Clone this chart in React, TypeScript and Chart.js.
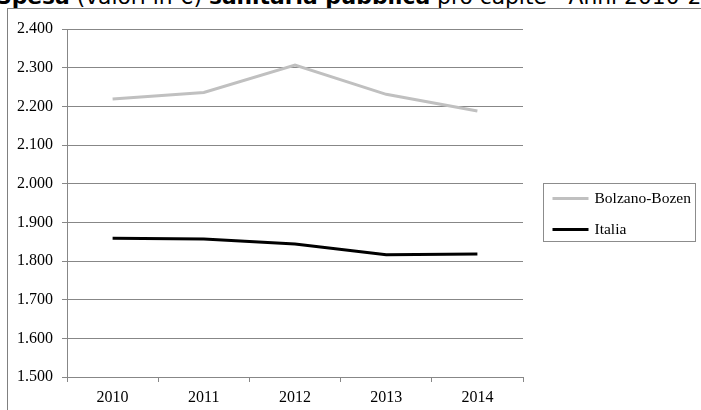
import React, { useEffect, useRef } from "react";
import { Chart, registerables } from "chart.js";

Chart.register(...registerables);

const categories = ["2010", "2011", "2012", "2013", "2014"];
const bolzanoValues = [2219, 2236, 2307, 2231, 2188];
const italiaValues = [1859, 1857, 1844, 1816, 1818];
const seriesNames = ["Bolzano-Bozen", "Italia"];
const yMin = 1500;
const yMax = 2400;
const yStep = 100;

const fmt = (v: number) => {
  const n = Math.round(v);
  const th = Math.floor(n / 1000);
  const rest = String(n % 1000).padStart(3, "0");
  return th > 0 ? `${th}.${rest}` : String(n);
};

const SERIF = "'Liberation Serif', 'Times New Roman', serif";

const boxLegend = {
  id: "boxLegend",
  afterDraw(chart: any) {
    const { ctx, chartArea } = chart;
    const fontSize = 15.5;
    ctx.save();
    ctx.font = `${fontSize}px ${SERIF}`;
    const ds = chart.data.datasets;
    let maxW = 0;
    ds.forEach((d: any) => {
      maxW = Math.max(maxW, ctx.measureText(d.label).width);
    });
    const lineLen = 36;
    const left = chartArea.right + 20.5;
    const itemGap = 31;
    const padTop = 15;
    const padBottom = 12;
    const height = padTop + padBottom + itemGap * (ds.length - 1);
    const midY = (chartArea.top + chartArea.bottom) / 2;
    const top = Math.round(midY - 20) + 0.5;
    const width = Math.round(9 + lineLen + 6 + maxW + 5);
    ctx.strokeStyle = "#8c8c8c";
    ctx.lineWidth = 1;
    ctx.strokeRect(left, top, width, height);
    ds.forEach((d: any, i: number) => {
      const y = top + padTop + i * itemGap;
      ctx.beginPath();
      ctx.strokeStyle = d.borderColor;
      ctx.lineWidth = d.borderWidth;
      ctx.moveTo(left + 9, y);
      ctx.lineTo(left + 9 + lineLen, y);
      ctx.stroke();
      ctx.fillStyle = "#000";
      ctx.textBaseline = "middle";
      ctx.textAlign = "left";
      ctx.fillText(d.label, left + 9 + lineLen + 6, y);
    });
    ctx.restore();
  },
};

export default function App() {
  const ref = useRef<HTMLCanvasElement>(null);
  useEffect(() => {
    if (!ref.current) return;
    const chart = new Chart(ref.current, {
      type: "line",
      data: {
        labels: categories,
        datasets: [
          {
            label: seriesNames[0],
            data: bolzanoValues,
            borderColor: "#c0c0c0",
            backgroundColor: "#c0c0c0",
            borderWidth: 3,
            pointRadius: 0,
            tension: 0,
          },
          {
            label: seriesNames[1],
            data: italiaValues,
            borderColor: "#000000",
            backgroundColor: "#000000",
            borderWidth: 3,
            pointRadius: 0,
            tension: 0,
          },
        ],
      },
      options: {
        animation: false,
        responsive: false,
        maintainAspectRatio: false,
        layout: { padding: { top: 29, right: 178, bottom: 0, left: 0 } },
        plugins: {
          legend: { display: false },
          title: { display: false },
          tooltip: { enabled: false },
        },
        scales: {
          x: {
            offset: true,
            grid: {
              offset: true,
              drawOnChartArea: false,
              drawTicks: true,
              tickLength: 5,
              color: "#878787",
            },
            border: { color: "#878787", width: 1 },
            ticks: {
              color: "#000",
              font: { family: SERIF, size: 16 },
              padding: 6,
              maxRotation: 0,
            },
            afterFit: (s: any) => {
              s.height = 33;
            },
          },
          y: {
            min: yMin,
            max: yMax,
            ticks: {
              stepSize: yStep,
              color: "#000",
              font: { family: SERIF, size: 16 },
              padding: 9,
              callback: (v: any) => fmt(Number(v)),
            },
            grid: {
              color: "#878787",
              lineWidth: 1,
              drawTicks: true,
              tickLength: 5,
            },
            border: { color: "#878787", width: 1 },
            afterFit: (s: any) => {
              s.width = 67;
            },
          },
        },
      },
      plugins: [boxLegend],
    });
    return () => chart.destroy();
  }, []);

  return (
    <div
      style={{
        position: "absolute",
        left: 0,
        top: 0,
        width: 701,
        height: 410,
        overflow: "hidden",
        background: "#fff",
      }}
    >
      <div
        style={{
          position: "absolute",
          left: 7,
          top: 8,
          width: 800,
          height: 600,
          border: "1px solid #808080",
          boxSizing: "border-box",
        }}
      />
      <div
        style={{
          position: "absolute",
          left: -4,
          top: -16,
          whiteSpace: "nowrap",
          fontFamily: "'DejaVu Sans', Verdana, sans-serif",
          fontSize: 21.8,
          lineHeight: "normal",
          color: "#000",
        }}
      >
        <b>Spesa</b> (valori in €) <b>sanitaria pubblica</b> pro capite - Anni 2010-2014
      </div>
      <canvas
        ref={ref}
        width={701}
        height={410}
        style={{ position: "absolute", left: 0, top: 0, width: 701, height: 410 }}
      />
    </div>
  );
}
